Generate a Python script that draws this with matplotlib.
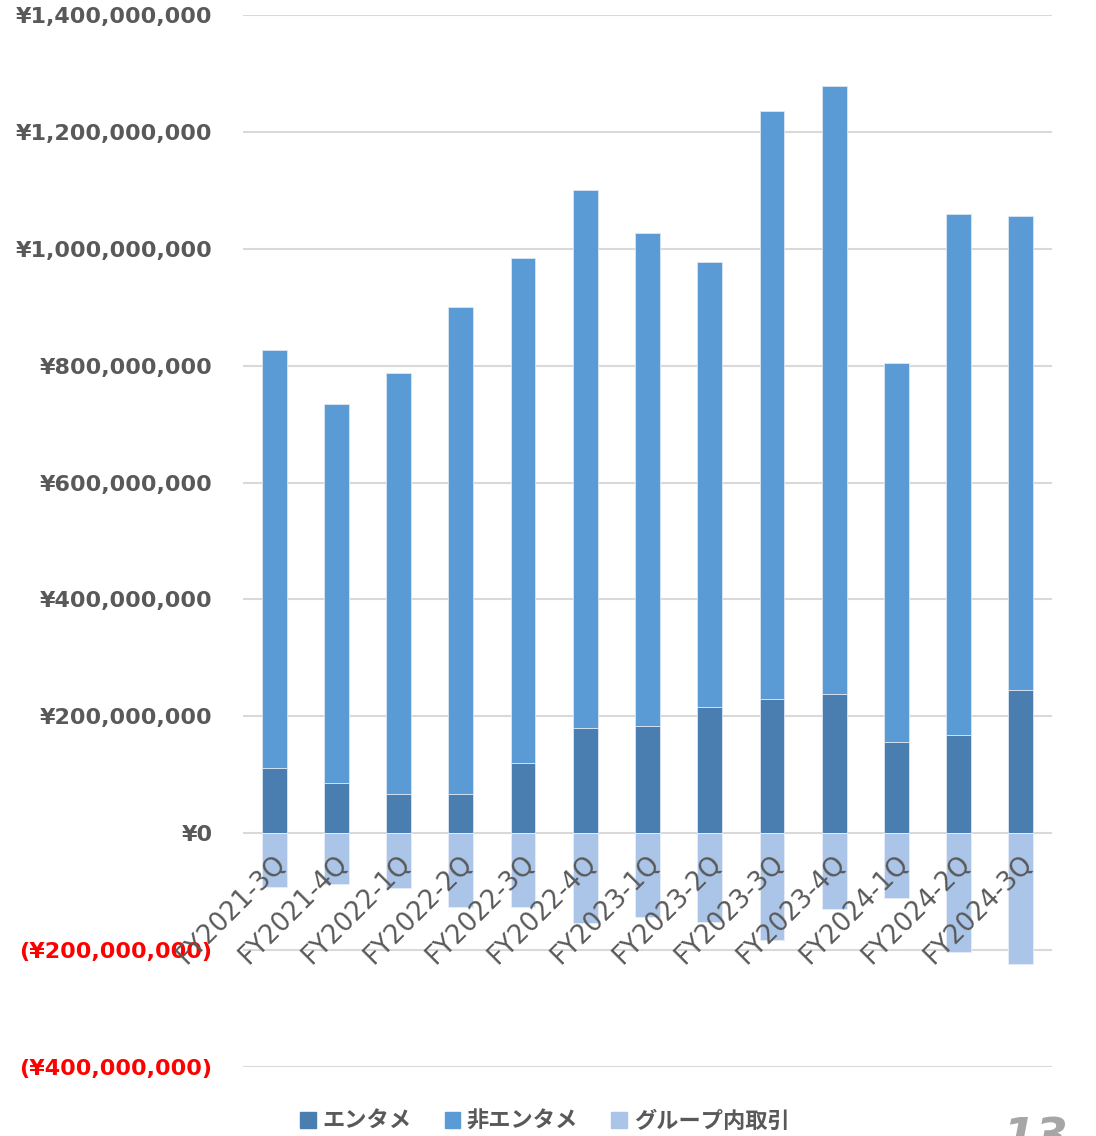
import numpy as np
import matplotlib.pyplot as plt
from matplotlib.patches import Patch

# 四半期ごとの売上（円）
quarters = ['FY2021-3Q', 'FY2021-4Q', 'FY2022-1Q', 'FY2022-2Q', 'FY2022-3Q',
            'FY2022-4Q', 'FY2023-1Q', 'FY2023-2Q', 'FY2023-3Q', 'FY2023-4Q',
            'FY2024-1Q', 'FY2024-2Q', 'FY2024-3Q']
entame = [111e6, 86e6, 67e6, 67e6, 120e6, 180e6, 183e6, 216e6, 230e6, 238e6,
          156e6, 168e6, 245e6]
hi_entame = [715e6, 649e6, 720e6, 834e6, 865e6, 920e6, 844e6, 761e6, 1006e6,
             1040e6, 649e6, 891e6, 811e6]
group_naibu = [-92e6, -87e6, -94e6, -127e6, -127e6, -154e6, -144e6, -151e6,
               -182e6, -129e6, -111e6, -204e6, -223e6]

c_entame = '#4A7EB1'
c_hi = '#5B9BD5'
c_group = '#ABC5E8'
c_text = '#595959'

plt.rcParams['font.family'] = ['DejaVu Sans', 'Noto Sans CJK JP']

fig = plt.figure(figsize=(10.96, 11.36), dpi=100)
ax = fig.add_axes([0.2217, 0.0607, 0.7382, 0.9261])

x = np.arange(len(quarters))
w = 0.4
ax.bar(x, entame, w, color=c_entame, edgecolor='#DCE6F2', linewidth=0.6, zorder=3)
ax.bar(x, hi_entame, w, bottom=entame, color=c_hi, edgecolor='#DCE6F2',
       linewidth=0.6, zorder=3)
ax.bar(x, group_naibu, w, color=c_group, edgecolor='#E8EEF7', linewidth=0.6, zorder=3)

ax.set_xlim(-0.5, len(quarters) - 0.5)
ax.set_ylim(-400e6, 1400e6)
yticks = np.arange(-400e6, 1400e6 + 1, 200e6)
ax.set_yticks(yticks)
ylabels = []
for v in yticks:
    if v < 0:
        ylabels.append(f'(¥{int(-v):,})')
    else:
        ylabels.append(f'¥{int(v):,}')
ax.set_yticklabels(ylabels, fontsize=16, fontweight='bold')
for lab, v in zip(ax.get_yticklabels(), yticks):
    lab.set_color('#FF0000' if v < 0 else c_text)

ax.grid(axis='y', color='#D9D9D9', linewidth=1.5, zorder=0)
ax.set_axisbelow(True)
for s in ax.spines.values():
    s.set_visible(False)
ax.tick_params(axis='both', length=0)
ax.tick_params(axis='y', pad=22)

# カテゴリ名は0円の線のすぐ下、棒の上に斜めで重ねる
ax.set_xticks(x)
ax.set_xticklabels([])
for xi, q in zip(x, quarters):
    ax.text(xi + 0.13, -44e6, q, rotation=45, ha='right', va='center',
            rotation_mode='anchor', fontsize=18.5, color=c_text, zorder=5)

handles = [Patch(color=c_entame, label='エンタメ'),
           Patch(color=c_hi, label='非エンタメ'),
           Patch(color=c_group, label='グループ内取引')]
fig.legend(handles=handles, loc='center', bbox_to_anchor=(0.497, 1 - 1121 / 1136),
           ncol=3, frameon=False, handlelength=0.7, handleheight=0.7,
           handletextpad=0.3, columnspacing=1.5,
           prop={'family': 'Noto Sans CJK JP', 'weight': 'bold', 'size': 16},
           labelcolor=c_text)

# ページ番号
fig.text(1003 / 1096, 1 - 1116 / 1136, '13', fontsize=34, style='italic',
         fontweight='bold', color='#A6A6A6', va='top', ha='left')

fig.savefig('out.png', dpi=100)
